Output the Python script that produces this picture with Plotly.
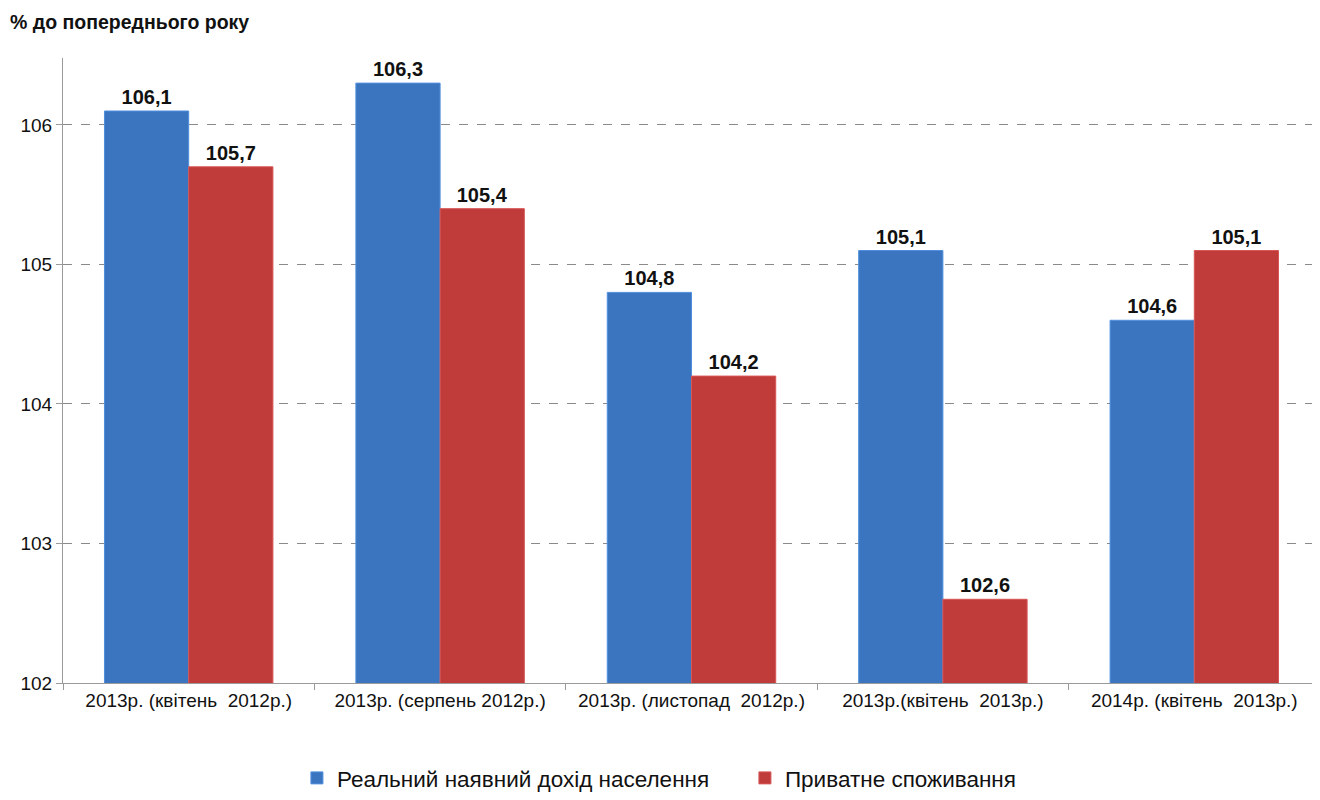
import plotly.graph_objects as go

categories = ["2013р. (квітень  2012р.)", "2013р. (серпень 2012р.)", "2013р. (листопад  2012р.)",
              "2013р.(квітень  2013р.)", "2014р. (квітень  2013р.)"]
income = [106.1, 106.3, 104.8, 105.1, 104.6]
consumption = [105.7, 105.4, 104.2, 102.6, 105.1]
income_labels = ["106,1", "106,3", "104,8", "105,1", "104,6"]
consumption_labels = ["105,7", "105,4", "104,2", "102,6", "105,1"]
series_names = ["Реальний наявний дохід населення", "Приватне споживання"]
y_title = "% до попереднього року"

FONT = "Liberation Sans, Arial"
LABEL_TEMPLATE = "<b>%{text}</b>"

fig = go.Figure()
fig.add_bar(x=categories, y=income, name=series_names[0],
            marker=dict(color="#3B75C0", line=dict(color="#4F8FDD", width=1)),
            text=income_labels, textposition="outside", texttemplate=LABEL_TEMPLATE,
            textfont=dict(family=FONT, size=20, color="#111111"),
            cliponaxis=False)
fig.add_bar(x=categories, y=consumption, name=series_names[1],
            marker=dict(color="#BF3C3B", line=dict(color="#D85555", width=1)),
            text=consumption_labels, textposition="outside", texttemplate=LABEL_TEMPLATE,
            textfont=dict(family=FONT, size=20, color="#111111"),
            cliponaxis=False)

fig.update_layout(
    width=1312, height=792,
    margin=dict(l=55, r=0, t=50, b=117),
    paper_bgcolor="white", plot_bgcolor="white",
    barmode="group", bargap=0.33, bargroupgap=0,
    font=dict(family=FONT, color="#111111"),
    showlegend=True,
    legend=dict(orientation="h", x=0.5425, xanchor="center", y=-0.118, yanchor="top",
                font=dict(family=FONT, size=22.5, color="#111111"),
                itemwidth=30, traceorder="normal", entrywidth=403),
    annotations=[dict(text="<b>" + y_title + "</b>", xref="paper", yref="paper",
                      x=-0.044, y=1.0, xanchor="left", yanchor="middle",
                      yshift=36, showarrow=False,
                      font=dict(family=FONT, size=19.5, color="#111111"))],
    xaxis=dict(showline=True, linecolor="#9a9a9a", linewidth=1,
               ticks="outside", tickson="boundaries", ticklen=6, tickcolor="#9a9a9a",
               tickfont=dict(family=FONT, size=19, color="#111111")),
    yaxis=dict(range=[102, 106.48], dtick=1, tick0=102,
               showline=True, linecolor="#9a9a9a", linewidth=1,
               ticks="outside", ticklen=6, tickcolor="#9a9a9a",
               showgrid=True, gridcolor="#8a8a8a", griddash="dash", gridwidth=1,
               zeroline=False,
               tickfont=dict(family=FONT, size=19, color="#111111")),
)

fig.write_html("out.html")
